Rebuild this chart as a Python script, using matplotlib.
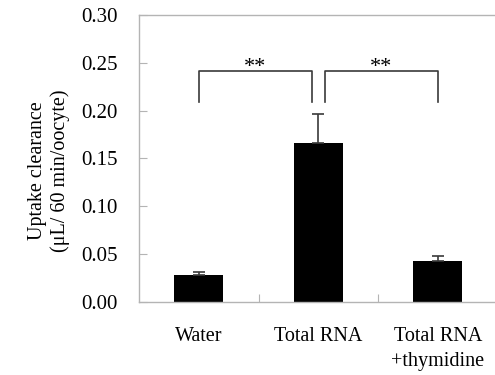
import numpy as np
import matplotlib
matplotlib.use('Agg')
import matplotlib.pyplot as plt

plt.rcParams['font.family'] = ['Liberation Serif', 'DejaVu Serif']

# data
groups = ['Water', 'Total RNA', 'Total RNA\n+thymidine']
clearance = [0.028, 0.166, 0.0425]
sem = [0.003, 0.0305, 0.0055]
# significance pairs (group index a, group index b, label)
pairs = [(0, 1, '**'), (1, 2, '**')]

GRID = '#b4b4b4'
DARK = '#3a3a3a'

fig = plt.figure(figsize=(4.95, 3.75), dpi=100)
ax = fig.add_axes([0.2808, 0.1947, 0.7192, 0.7653])

x = np.arange(len(groups))
ax.bar(x, clearance, width=0.41, color='black', zorder=2)
ax.errorbar(x, clearance, yerr=[np.zeros(len(sem)), sem], fmt='none',
            ecolor=DARK, elinewidth=1.2, capsize=4.5, capthick=1.2, zorder=3)

# significance brackets
top, drop, gap = 0.2415, 0.032, 0.054
for a, b, lab in pairs:
    x0 = a + (gap if a == 1 else 0)
    x1 = b - (gap if b == 1 else 0)
    ax.plot([x0, x0, x1, x1], [top - drop, top, top, top - drop],
            color=DARK, linewidth=1.2, zorder=3)
    ax.text((x0 + x1) / 2, top - 0.001, lab, ha='center', va='baseline',
            fontsize=16)

ax.set_ylim(0, 0.30)
ax.set_xlim(-0.5, 2.477)
ax.set_yticks(np.arange(0, 0.301, 0.05))
ax.set_yticklabels([f'{v:.2f}' for v in np.arange(0, 0.301, 0.05)])
ax.set_xticks(x)
ax.set_xticklabels(groups, linespacing=1.4)
ax.set_xticks([0.5, 1.5], minor=True)

ax.tick_params(axis='y', direction='in', length=6, width=0.8, color=GRID,
               labelsize=15, pad=15.5)
ax.tick_params(axis='x', which='major', length=0, labelsize=14.5, pad=18)
ax.tick_params(axis='x', which='minor', direction='in', length=6, width=0.8,
               color=GRID)

for side in ['left', 'bottom', 'top']:
    ax.spines[side].set_color(GRID)
    ax.spines[side].set_linewidth(1.0)
ax.spines['right'].set_visible(False)

fig.text(0.099, 0.545, 'Uptake clearance\n(\u03bcL/ 60 min/oocyte)',
         rotation=90, ha='center', va='center', fontsize=14.5,
         linespacing=1.25)

fig.savefig('out.png', dpi=100, facecolor='white')
